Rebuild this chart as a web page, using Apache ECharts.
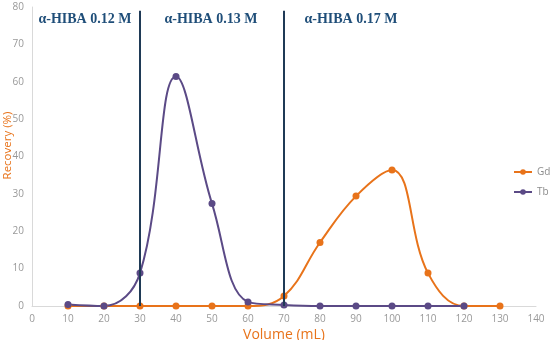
<!DOCTYPE html>
<html><head><meta charset="utf-8">
<script src="https://cdn.jsdelivr.net/npm/echarts@6/dist/echarts.min.js"></script>
<style>html,body{margin:0;padding:0;background:#fff}#c{width:550px;height:340px}</style>
</head><body><div id="c"></div>
<script>
const volumes = [10,20,30,40,50,60,70,80,90,100,110,120,130];
const gd = [0,0,0,0,0,0,2.7,17,29.4,36.4,8.8,0,0];
const tbVolumes = [10,20,30,40,50,60,70,80,90,100,110,120];
const tb = [0.4,0,8.8,61.4,27.4,1.1,0.3,0,0,0,0,0];
const dividers = [30,70];
const bandLabels = ['α-HIBA 0.12 M','α-HIBA 0.13 M','α-HIBA 0.17 M'];
const bandLabelX = [14.7,49.7,88.6];
const bandLabelY = 76.7;

const chart = echarts.init(document.getElementById('c'));
const axisFont = {color:'#999999', fontSize:10, fontFamily:'Open Sans'};
chart.setOption({
  animation:false,
  grid:{left:32, right:14, top:7, bottom:34, containLabel:false, outerBoundsMode:'none'},
  legend:{orient:'vertical', left:513, top:167, padding:0, itemWidth:18, itemHeight:7, itemGap:10,
    textStyle:{color:'#8c8c8c', fontSize:10, fontFamily:'Open Sans'}, data:['Gd','Tb']},
  xAxis:{type:'value', min:0, max:140, interval:10,
    name:'Volume (mL)', nameLocation:'middle', nameGap:22, nameMoveOverlap:false,
    nameTextStyle:{color:'#E8731A', fontSize:14, fontFamily:'Open Sans'},
    axisLine:{lineStyle:{color:'#d9d9d9'}}, axisTick:{show:false},
    axisLabel:Object.assign({margin:8}, axisFont), splitLine:{show:false}},
  yAxis:{type:'value', min:0, max:80, interval:10,
    name:'Recovery (%)', nameLocation:'middle', nameGap:18, nameMoveOverlap:false,
    nameTextStyle:{color:'#E8731A', fontSize:11.5, fontFamily:'Open Sans', padding:[0,0,0,22]},
    axisLine:{show:true, lineStyle:{color:'#d9d9d9'}}, axisTick:{show:false},
    axisLabel:Object.assign({margin:8}, axisFont), splitLine:{show:false}},
  series:[
    {name:'Gd', type:'line', smooth:0.4, data:volumes.map((v,i)=>[v,gd[i]]),
      symbol:'circle', symbolSize:7, itemStyle:{color:'#E8731A'}, lineStyle:{width:2, color:'#E8731A'},
      markLine:{silent:true, symbol:'none', label:{show:false},
        lineStyle:{color:'#1F3A56', width:2, type:'solid'},
        data:dividers.map(d=>[{coord:[d,0]},{coord:[d,79]}])},
      markPoint:{silent:true, symbol:'circle', symbolSize:0,
        label:{show:true, position:'inside', color:'#1F4E79', fontFamily:'Liberation Serif', fontWeight:'bold', fontSize:14,
          formatter:p=>p.name},
        data:bandLabels.map((t,i)=>({name:t, coord:[bandLabelX[i], bandLabelY]}))}
    },
    {name:'Tb', type:'line', smooth:0.4, data:tbVolumes.map((v,i)=>[v,tb[i]]),
      symbol:'circle', symbolSize:7, itemStyle:{color:'#5B4A86'}, lineStyle:{width:2, color:'#5B4A86'}}
  ]
});
</script></body></html>
